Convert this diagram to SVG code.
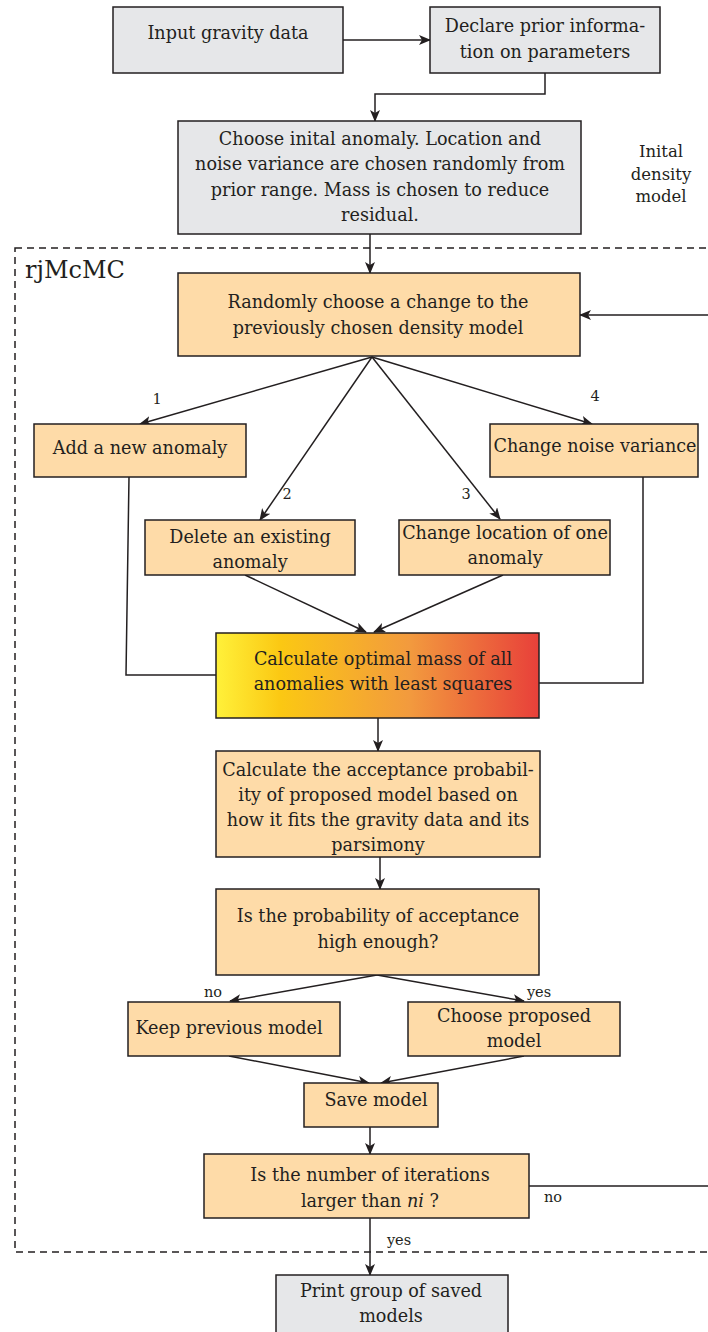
<svg xmlns="http://www.w3.org/2000/svg" width="708" height="1332" viewBox="0 0 708 1332">
<style>
.g{fill:#e6e7e9;stroke:#231f20;stroke-width:1.5}
.o{fill:#fedba8;stroke:#231f20;stroke-width:1.5}
.t{font-family:'DejaVu Serif',serif;font-size:17.6px;fill:#231f20;text-anchor:middle}
.s{font-family:'DejaVu Serif',serif;font-size:14.5px;fill:#231f20}
.m{font-family:'DejaVu Serif',serif;font-size:16.5px;fill:#231f20;text-anchor:middle}
.c{fill:none;stroke:#231f20;stroke-width:1.5}
</style>
<defs>
<marker id="a" viewBox="0 0 12 10" refX="11" refY="5" markerWidth="12" markerHeight="10" markerUnits="userSpaceOnUse" orient="auto">
<path d="M0,0 L12,5 L0,10 L3,5 z" fill="#231f20"/>
</marker>
<linearGradient id="grad" x1="0" y1="0" x2="1" y2="0">
<stop offset="0" stop-color="#fff13a"/>
<stop offset="0.2" stop-color="#fbc813"/>
<stop offset="0.6" stop-color="#f29a3e"/>
<stop offset="1" stop-color="#e8403a"/>
</linearGradient>
</defs>

<rect x="15" y="248" width="720" height="1004" fill="none" stroke="#231f20" stroke-width="1.5" stroke-dasharray="7,5"/>
<text x="25" y="278" font-family="DejaVu Serif, serif" font-size="24" fill="#231f20">rjMcMC</text>
<text class="m" x="661" y="157">Inital</text>
<text class="m" x="661" y="180">density</text>
<text class="m" x="661" y="202">model</text>

<g id="connectors">
<line class="c" x1="343" y1="40" x2="430" y2="40" marker-end="url(#a)"/>
<polyline class="c" points="545,73 545,94 375,94 375,121" marker-end="url(#a)"/>
<line class="c" x1="370" y1="234" x2="370" y2="273" marker-end="url(#a)"/>
<polyline class="c" points="529,1186 720,1186 720,315 580,315" marker-end="url(#a)"/>
<line class="c" x1="372" y1="357" x2="140" y2="424" marker-end="url(#a)"/>
<line class="c" x1="372" y1="357" x2="260" y2="520" marker-end="url(#a)"/>
<line class="c" x1="372" y1="357" x2="500" y2="519" marker-end="url(#a)"/>
<line class="c" x1="372" y1="357" x2="592" y2="424" marker-end="url(#a)"/>
<polyline class="c" points="129,477 126,675 216,675"/>
<polyline class="c" points="643,477 643,683 539,683"/>
<line class="c" x1="245" y1="575" x2="366" y2="632" marker-end="url(#a)"/>
<line class="c" x1="503" y1="575" x2="374" y2="632" marker-end="url(#a)"/>
<line class="c" x1="378" y1="718" x2="378" y2="751" marker-end="url(#a)"/>
<line class="c" x1="380" y1="857" x2="380" y2="889" marker-end="url(#a)"/>
<line class="c" x1="377" y1="975" x2="230" y2="1001" marker-end="url(#a)"/>
<line class="c" x1="377" y1="975" x2="524" y2="1001" marker-end="url(#a)"/>
<line class="c" x1="229" y1="1056" x2="369" y2="1083" marker-end="url(#a)"/>
<line class="c" x1="524" y1="1056" x2="381" y2="1083" marker-end="url(#a)"/>
<line class="c" x1="370" y1="1127" x2="370" y2="1154" marker-end="url(#a)"/>
<line class="c" x1="370" y1="1218" x2="370" y2="1275" marker-end="url(#a)"/>
<text class="s" x="157" y="404" text-anchor="middle">1</text>
<text class="s" x="287" y="499" text-anchor="middle">2</text>
<text class="s" x="466" y="499" text-anchor="middle">3</text>
<text class="s" x="595" y="401" text-anchor="middle">4</text>
<text class="s" x="213" y="997" text-anchor="middle">no</text>
<text class="s" x="539" y="997" text-anchor="middle">yes</text>
<text class="s" x="553" y="1202" text-anchor="middle">no</text>
<text class="s" x="399" y="1245" text-anchor="middle">yes</text>
</g>

<g id="input"><rect class="g" x="113" y="7" width="230" height="66"/><text class="t" x="228" y="39">Input gravity data</text></g>
<g id="declare"><rect class="g" x="430" y="7" width="230" height="66"/><text class="t" x="545" y="32">Declare prior informa-</text><text class="t" x="545" y="58">tion on parameters</text></g>
<g id="initial"><rect class="g" x="178" y="121" width="403" height="113"/>
<text class="t" x="380" y="145">Choose inital anomaly. Location and</text>
<text class="t" x="380" y="170">noise variance are chosen randomly from</text>
<text class="t" x="380" y="196">prior range. Mass is chosen to reduce</text>
<text class="t" x="380" y="221">residual.</text></g>
<g id="random"><rect class="o" x="178" y="273" width="402" height="83"/>
<text class="t" x="378" y="308">Randomly choose a change to the</text>
<text class="t" x="378" y="334">previously chosen density model</text></g>
<g id="add"><rect class="o" x="34" y="424" width="212" height="53"/><text class="t" x="140" y="454">Add a new anomaly</text></g>
<g id="noise"><rect class="o" x="490" y="424" width="208" height="53"/><text class="t" x="595" y="452">Change noise variance</text></g>
<g id="delete"><rect class="o" x="145" y="520" width="210" height="55"/><text class="t" x="250" y="543">Delete an existing</text><text class="t" x="250" y="568">anomaly</text></g>
<g id="location"><rect class="o" x="399" y="520" width="211" height="55"/><text class="t" x="505" y="539">Change location of one</text><text class="t" x="505" y="564">anomaly</text></g>
<g id="optimal"><rect x="216" y="633" width="323" height="85" fill="url(#grad)" stroke="#231f20" stroke-width="1.5"/>
<text class="t" x="383" y="665">Calculate optimal mass of all</text>
<text class="t" x="383" y="690">anomalies with least squares</text></g>
<g id="accept"><rect class="o" x="216" y="751" width="324" height="106"/>
<text class="t" x="378" y="776">Calculate the acceptance probabil-</text>
<text class="t" x="378" y="801">ity of proposed model based on</text>
<text class="t" x="378" y="826">how it fits the gravity data and its</text>
<text class="t" x="378" y="851">parsimony</text></g>
<g id="enough"><rect class="o" x="216" y="889" width="323" height="86"/>
<text class="t" x="378" y="922">Is the probability of acceptance</text>
<text class="t" x="378" y="948">high enough?</text></g>
<g id="keep"><rect class="o" x="128" y="1002" width="212" height="54"/><text class="t" x="229" y="1034">Keep previous model</text></g>
<g id="choose"><rect class="o" x="408" y="1002" width="212" height="54"/><text class="t" x="514" y="1022">Choose proposed</text><text class="t" x="514" y="1047">model</text></g>
<g id="save"><rect class="o" x="304" y="1083" width="134" height="44"/><text class="t" x="376" y="1106">Save model</text></g>
<g id="iter"><rect class="o" x="204" y="1154" width="325" height="64"/>
<text class="t" x="370" y="1181">Is the number of iterations</text>
<text class="t" x="370" y="1207">larger than <tspan font-style="italic">ni</tspan> ?</text></g>
<g id="print"><rect class="g" x="276" y="1275" width="232" height="70"/>
<text class="t" x="391" y="1297">Print group of saved</text>
<text class="t" x="391" y="1322">models</text></g>
</svg>
